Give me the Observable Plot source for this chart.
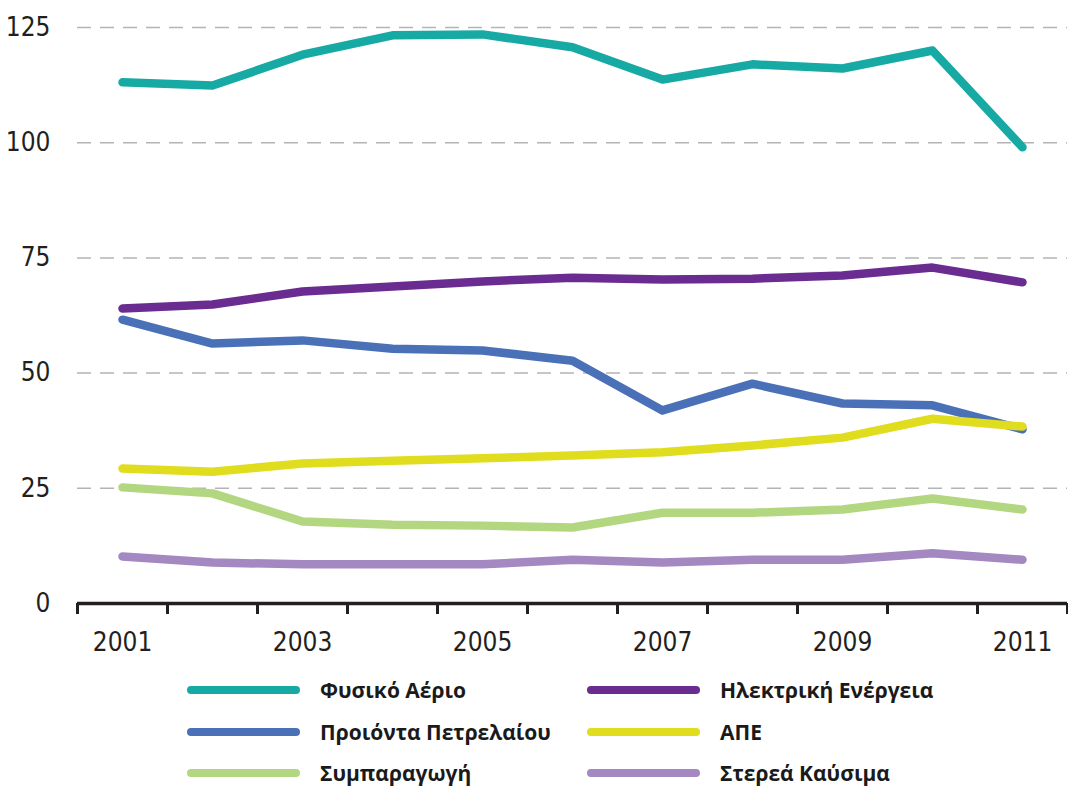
<!DOCTYPE html>
<html>
<head>
<meta charset="utf-8">
<script src="https://cdn.jsdelivr.net/npm/d3@7"></script>
<script src="https://cdn.jsdelivr.net/npm/@observablehq/plot@0.6"></script>
<style>
  html, body { margin: 0; padding: 0; background: #fff; }
  #wrap { position: relative; width: 1068px; height: 787px; overflow: hidden; }
  #legend { position: absolute; left: 0; top: 0; width: 1068px; height: 787px; pointer-events: none; }
  .item { position: absolute; display: flex; align-items: center; height: 30px; }
  .sw { width: 113px; height: 8px; border-radius: 4px; margin-right: 20px; flex: none; }
  .lab { font-family: "Open Sans", "Noto Sans", sans-serif; font-weight: 700; font-size: 21px; color: #1a1a1a; white-space: nowrap; line-height: 26px; }
</style>
</head>
<body>
<div id="wrap"><div id="chart"></div><div id="legend"></div></div>
<script>
const years = [2001, 2002, 2003, 2004, 2005, 2006, 2007, 2008, 2009, 2010, 2011];
const seriesNames = ["Φυσικό Αέριο", "Ηλεκτρική Ενέργεια", "Προιόντα Πετρελαίου", "ΑΠΕ", "Συμπαραγωγή", "Στερεά Καύσιμα"];
const seriesColors = ["#17aaa5", "#6a2c90", "#4a71b8", "#e0dc1e", "#b3d680", "#a388c1"];
const naturalGas   = [113.1, 112.4, 119.1, 123.3, 123.5, 120.7, 113.7, 117.0, 116.1, 120.0, 99.0];
const electricity  = [64.0, 64.9, 67.7, 68.8, 69.9, 70.7, 70.3, 70.5, 71.2, 72.9, 69.7];
const oilProducts  = [61.6, 56.4, 57.1, 55.3, 54.9, 52.7, 41.9, 47.7, 43.4, 43.0, 37.8];
const renewables   = [29.3, 28.6, 30.4, 31.0, 31.5, 32.1, 32.8, 34.3, 36.0, 40.1, 38.4];
const cogeneration = [25.2, 23.9, 17.8, 17.1, 16.9, 16.5, 19.7, 19.7, 20.4, 22.8, 20.4];
const solidFuels   = [10.2, 8.9, 8.5, 8.5, 8.5, 9.5, 8.9, 9.5, 9.5, 10.9, 9.5];
const yTicks = [0, 25, 50, 75, 100, 125];
const xLabelTicks = [2001, 2003, 2005, 2007, 2009, 2011];
const legendOrder = [0, 1, 2, 3, 4, 5];

const allSeries = [naturalGas, electricity, oilProducts, renewables, cogeneration, solidFuels];
const data = [];
allSeries.forEach((vals, i) => vals.forEach((v, j) => data.push({series: seriesNames[i], year: years[j], value: v})));
const boundaries = [...years.map(y => y - 0.5), years[years.length - 1] + 0.5];

const chart = Plot.plot({
  width: 1068,
  height: 660,
  marginLeft: 77,
  marginRight: 1,
  marginTop: 27,
  marginBottom: 57,
  style: { fontFamily: "'Liberation Sans Narrow', 'DejaVu Sans Condensed', sans-serif", color: "#231f20", background: "#fff" },
  x: { domain: [years[0] - 0.5, years[years.length - 1] + 0.5] },
  y: { domain: [0, 125] },
  color: { domain: seriesNames, range: seriesColors },
  marks: [
    Plot.gridY(yTicks.filter(d => d > 0), { stroke: "#b4b4b4", strokeOpacity: 1, strokeWidth: 1.5, strokeDasharray: "14,9" }),
    Plot.axisY(yTicks, { tickSize: 0, tickPadding: 27, fontSize: 26, label: null }),
    Plot.axisX(boundaries, { tickSize: 11, tickFormat: () => "", strokeWidth: 3, stroke: "#231f20", label: null }),
    Plot.axisX(xLabelTicks, { tickSize: 0, tickPadding: 29, fontSize: 26, tickFormat: d => String(d), label: null }),
    Plot.ruleY([0], { stroke: "#231f20", strokeWidth: 3.5 }),
    Plot.line(data, { x: "year", y: "value", z: "series", stroke: "series", strokeWidth: 8.5, strokeLinecap: "round", strokeLinejoin: "round" })
  ]
});
document.getElementById("chart").appendChild(chart);

const legend = document.getElementById("legend");
const colLeft = [187, 587];
const rowTop = [675, 717, 758];
legendOrder.forEach((si, k) => {
  const div = document.createElement("div");
  div.className = "item";
  div.style.left = colLeft[k % 2] + "px";
  div.style.top = rowTop[Math.floor(k / 2)] + "px";
  const sw = document.createElement("div");
  sw.className = "sw";
  sw.style.background = seriesColors[si];
  const lab = document.createElement("div");
  lab.className = "lab";
  lab.textContent = seriesNames[si];
  div.appendChild(sw);
  div.appendChild(lab);
  legend.appendChild(div);
});
</script>
</body>
</html>
